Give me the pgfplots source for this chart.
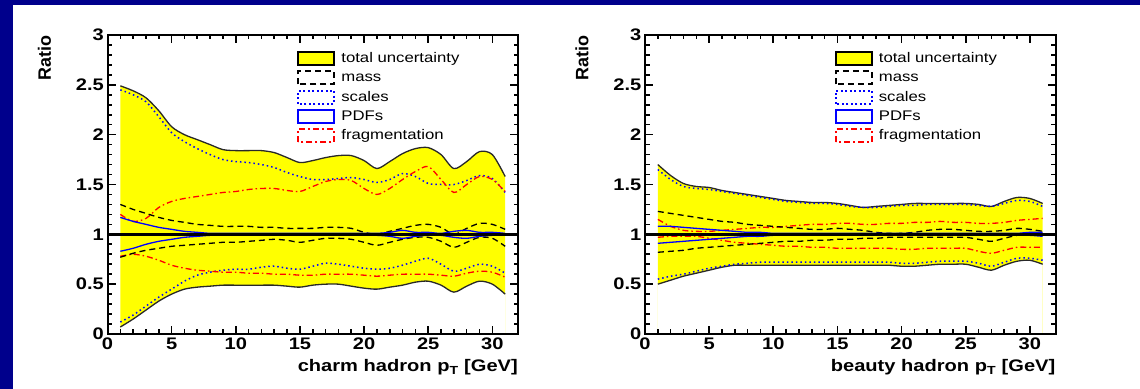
\documentclass[border=0pt]{standalone}
\usepackage{fontspec}
\setmainfont{Liberation Sans}[FakeStretch=1.2]
\newfontfamily\plainsans{Liberation Sans}
\usepackage{pgfplots}
\pgfplotsset{compat=1.18}
\usepackage{pgfplotstable}
\definecolor{navybg}{RGB}{0,0,140}
\definecolor{bord}{RGB}{40,40,40}
\definecolor{yel}{RGB}{255,255,0}

\pgfplotstableread{
x tu tl su sl mu ml pu pl fu fl
1 2.49 0.07 2.45 0.12 1.30 0.77 1.17 0.83 1.20 0.78
2 2.44 0.15 2.40 0.19 1.25 0.81 1.13 0.86 1.13 0.80
3 2.37 0.24 2.33 0.28 1.21 0.84 1.10 0.90 1.16 0.78
4 2.24 0.33 2.18 0.37 1.17 0.86 1.07 0.93 1.27 0.74
5 2.08 0.40 2.02 0.45 1.14 0.88 1.05 0.95 1.33 0.69
6 2.00 0.45 1.93 0.53 1.12 0.89 1.03 0.97 1.36 0.66
7 1.95 0.47 1.86 0.59 1.10 0.90 1.02 0.98 1.38 0.64
8 1.90 0.48 1.80 0.62 1.09 0.91 1.01 0.99 1.40 0.63
9 1.85 0.49 1.75 0.64 1.08 0.92 1.01 0.99 1.42 0.62
10 1.84 0.49 1.73 0.65 1.08 0.92 1.01 0.99 1.43 0.62
11 1.84 0.49 1.72 0.65 1.08 0.93 1.01 0.99 1.45 0.61
12 1.84 0.49 1.70 0.67 1.07 0.94 1.01 0.99 1.46 0.61
13 1.82 0.49 1.67 0.68 1.07 0.95 1.01 0.99 1.46 0.60
14 1.77 0.48 1.62 0.66 1.06 0.94 1.01 0.99 1.44 0.60
15 1.72 0.47 1.58 0.65 1.06 0.92 1.01 0.99 1.43 0.59
16 1.74 0.49 1.55 0.68 1.06 0.94 1.01 0.99 1.48 0.59
17 1.77 0.50 1.55 0.71 1.07 0.96 1.01 0.99 1.53 0.60
18 1.79 0.50 1.56 0.70 1.07 0.96 1.01 0.99 1.55 0.60
19 1.79 0.48 1.57 0.68 1.06 0.95 1.01 0.99 1.54 0.60
20 1.74 0.46 1.55 0.66 1.02 0.92 1.01 0.99 1.46 0.59
21 1.66 0.45 1.52 0.65 1.00 0.89 1.01 0.99 1.40 0.58
22 1.73 0.47 1.55 0.66 1.03 0.92 1.02 0.98 1.46 0.59
23 1.81 0.49 1.61 0.69 1.06 0.95 1.04 0.96 1.55 0.60
24 1.86 0.52 1.58 0.73 1.09 0.97 1.02 0.98 1.63 0.60
25 1.87 0.53 1.51 0.76 1.10 0.97 1.02 0.99 1.68 0.60
26 1.80 0.49 1.50 0.70 1.07 0.93 1.01 0.99 1.55 0.59
27 1.66 0.42 1.50 0.63 1.00 0.87 1.03 0.97 1.42 0.58
28 1.73 0.48 1.54 0.66 1.06 0.92 1.04 0.96 1.50 0.61
29 1.83 0.53 1.59 0.70 1.11 0.97 1.02 0.98 1.58 0.63
30 1.80 0.50 1.56 0.68 1.10 0.96 1.02 0.99 1.55 0.62
31 1.58 0.40 1.42 0.61 1.05 0.88 1.01 0.99 1.43 0.57
}\charm

\pgfplotstableread{
x tu tl su sl mu ml pu pl fu fl
1 1.70 0.50 1.65 0.55 1.23 0.82 1.08 0.91 1.15 0.97
2 1.59 0.54 1.55 0.58 1.21 0.83 1.08 0.92 1.08 0.98
3 1.51 0.58 1.48 0.60 1.19 0.84 1.07 0.93 1.04 0.98
4 1.48 0.61 1.46 0.63 1.17 0.86 1.06 0.94 1.03 0.98
5 1.47 0.64 1.45 0.66 1.15 0.87 1.05 0.95 1.03 0.96
6 1.44 0.67 1.43 0.68 1.13 0.88 1.04 0.96 1.04 0.94
7 1.42 0.69 1.41 0.70 1.12 0.89 1.03 0.97 1.05 0.92
8 1.40 0.69 1.39 0.71 1.10 0.90 1.02 0.98 1.06 0.91
9 1.38 0.69 1.37 0.72 1.09 0.91 1.02 0.98 1.07 0.90
10 1.36 0.69 1.35 0.72 1.08 0.92 1.01 0.99 1.07 0.89
11 1.34 0.69 1.33 0.72 1.07 0.93 1.01 0.99 1.08 0.88
12 1.33 0.69 1.32 0.72 1.06 0.93 1.01 0.99 1.09 0.88
13 1.32 0.69 1.31 0.72 1.05 0.94 1.01 0.99 1.10 0.87
14 1.32 0.69 1.31 0.72 1.05 0.94 1.01 0.99 1.10 0.87
15 1.31 0.69 1.30 0.72 1.06 0.95 1.01 0.99 1.11 0.86
16 1.29 0.69 1.28 0.72 1.05 0.95 1.01 0.99 1.11 0.86
17 1.27 0.69 1.27 0.72 1.04 0.96 1.01 0.99 1.10 0.86
18 1.28 0.69 1.27 0.72 1.02 0.96 1.01 0.99 1.10 0.86
19 1.29 0.69 1.28 0.72 1.01 0.97 1.01 0.99 1.11 0.86
20 1.30 0.68 1.29 0.71 1.01 0.97 1.01 0.99 1.11 0.85
21 1.31 0.68 1.29 0.71 1.02 0.97 1.01 0.99 1.12 0.85
22 1.31 0.69 1.30 0.72 1.04 0.97 1.01 0.99 1.12 0.86
23 1.31 0.70 1.30 0.73 1.05 0.97 1.01 0.99 1.13 0.86
24 1.31 0.70 1.30 0.73 1.05 0.97 1.01 0.99 1.12 0.86
25 1.31 0.70 1.30 0.73 1.04 0.97 1.01 0.99 1.12 0.86
26 1.30 0.67 1.29 0.71 1.03 0.95 1.01 0.99 1.11 0.83
27 1.28 0.64 1.28 0.68 1.03 0.93 1.01 0.99 1.11 0.81
28 1.33 0.69 1.31 0.72 1.04 0.96 1.01 0.99 1.12 0.84
29 1.37 0.73 1.34 0.76 1.06 0.99 1.01 0.99 1.14 0.87
30 1.36 0.74 1.33 0.76 1.05 1.00 1.02 0.99 1.15 0.87
31 1.31 0.70 1.28 0.74 1.03 1.00 1.02 0.98 1.16 0.87
}\beauty

\pgfplotsset{
  rectlegend/.style={legend image code/.code={\draw[##1] (0bp,-6.5bp) rectangle (36bp,6.5bp);}},
  ratioaxis/.style={
    scale only axis, width=410.5bp, height=299bp,
    xmin=0, xmax=32, ymin=0, ymax=3,
    xtick={0,5,...,30}, ytick={0,0.5,...,3},
    minor x tick num=4, minor y tick num=4,
    tick align=inside, tick pos=both,
    major tick length=8bp, minor tick length=4.5bp,
    every tick/.style={black, line width=1.6bp},
    axis line style={black, line width=2bp},
    axis on top,
    /pgf/number format/assume math mode=true,
    ticklabel style={font=\bfseries\fontsize{16.8}{18}\selectfont},
    xticklabel style={inner sep=4bp},
    yticklabel style={inner sep=3.5bp},
    every axis x label/.style={at={(rel axis cs:1,0)}, anchor=north east, inner sep=0pt, yshift=-25.5bp, font=\bfseries\fontsize{16.8}{18}\selectfont},
    every axis y label/.style={at={(rel axis cs:0,1)}, rotate=90, anchor=east, inner sep=0pt, yshift=63bp, font=\plainsans\bfseries\fontsize{18}{20}\selectfont},
    ylabel={Ratio},
    legend style={at={(0.462,0.948)}, anchor=north west, draw=none, fill=none, inner sep=0pt,
      font=\fontsize{14}{14}\selectfont, row sep=3.2bp,
      nodes={inner sep=1bp, text height=11bp, text depth=3bp},
      /tikz/every odd column/.append style={column sep=5bp}},
    legend cell align=left,
  },
  tot/.style={draw=bord, line width=1.3bp, smooth, forget plot},
  mass/.style={black, line width=1.3bp, dash pattern=on 6bp off 4bp, smooth, forget plot},
  scal/.style={blue, line width=1.5bp, dash pattern=on 1.5bp off 3bp, smooth, forget plot},
  pdfs/.style={blue, line width=1.3bp, smooth, forget plot},
  frag/.style={red, line width=1.3bp, dash pattern=on 6bp off 3bp on 1.5bp off 3bp, smooth, forget plot},
}

\newcommand{\legendstuff}{%
  \addlegendimage{rectlegend, fill=yel, draw=black, line width=2bp}
  \addlegendentry{total uncertainty}
  \addlegendimage{rectlegend, draw=black, line width=2bp, dash pattern=on 6bp off 4bp}
  \addlegendentry{mass}
  \addlegendimage{rectlegend, draw=blue, line width=2bp, dash pattern=on 2bp off 2.5bp}
  \addlegendentry{scales}
  \addlegendimage{rectlegend, draw=blue, line width=2bp}
  \addlegendentry{PDFs}
  \addlegendimage{rectlegend, draw=red, line width=2bp, dash pattern=on 6bp off 3bp on 2bp off 3bp}
  \addlegendentry{fragmentation}
}

\newcommand{\drawpanel}[1]{%
  \addplot[fill=yel, draw=none, smooth, forget plot] table[x=x,y=tu]{#1} \closedcycle;
  \addplot[fill=white, draw=none, smooth, forget plot] table[x=x,y=tl]{#1} \closedcycle;
  \addplot[tot] table[x=x,y=tu]{#1};
  \addplot[tot] table[x=x,y=tl]{#1};
  \addplot[scal] table[x=x,y=su]{#1};
  \addplot[scal] table[x=x,y=sl]{#1};
  \addplot[frag] table[x=x,y=fu]{#1};
  \addplot[frag] table[x=x,y=fl]{#1};
  \addplot[mass] table[x=x,y=mu]{#1};
  \addplot[mass] table[x=x,y=ml]{#1};
  \addplot[pdfs] table[x=x,y=pu]{#1};
  \addplot[pdfs] table[x=x,y=pl]{#1};
  \addplot[black, line width=2.6bp, forget plot] coordinates {(0,1) (32,1)};
}

\begin{document}
\begin{tikzpicture}
\fill[navybg] (0,0) rectangle (1140bp,389bp);
\fill[white] (13bp,0) rectangle (1140bp,384bp);

\begin{axis}[ratioaxis, at={(107.5bp,55bp)}, anchor=south west,
  xlabel={charm hadron p\textsubscript{T} [GeV]}]
\legendstuff
\drawpanel{\charm}
\end{axis}

\begin{axis}[ratioaxis, at={(645bp,55bp)}, anchor=south west,
  xlabel={beauty hadron p\textsubscript{T} [GeV]}]
\legendstuff
\drawpanel{\beauty}
\end{axis}
\end{tikzpicture}
\end{document}
